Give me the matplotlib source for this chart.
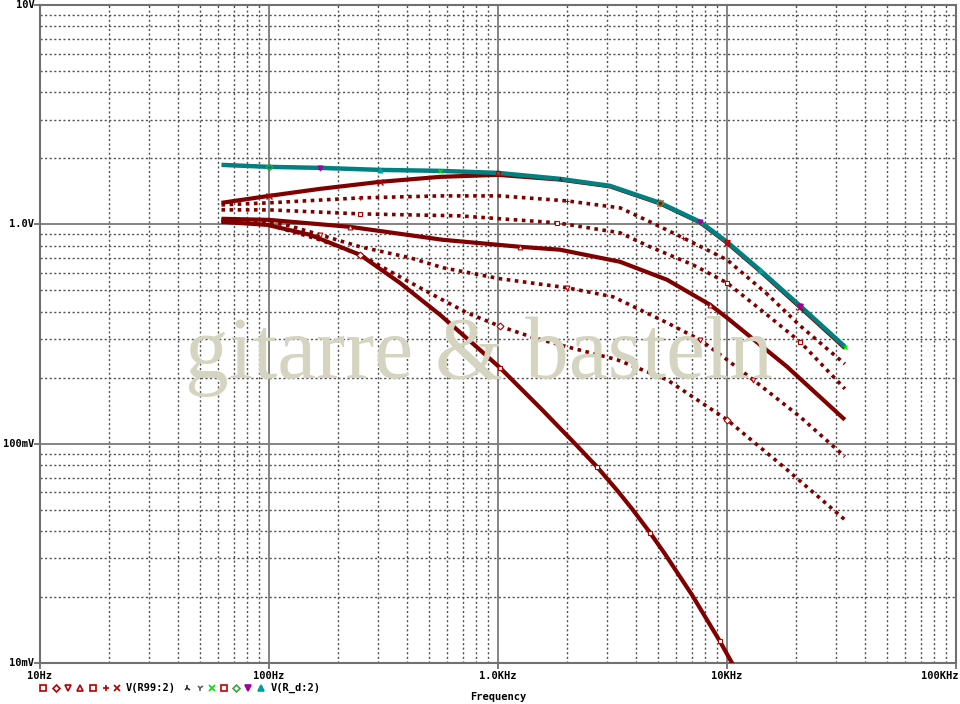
import matplotlib
matplotlib.use("Agg")
import matplotlib.pyplot as plt
from matplotlib.lines import Line2D
from matplotlib.ticker import LogLocator, NullFormatter

# ---------------- data (Hz, V) ----------------
# V(R_d:2): seven overlapping traces, drawn teal on top
f_rd = [62, 100, 167, 305, 558, 1000, 1865, 3080, 5100, 7620, 10000, 13900, 20800, 32700]
v_rd = [1.867, 1.828, 1.809, 1.771, 1.753, 1.716, 1.612, 1.498, 1.253, 1.027, 0.832, 0.620, 0.426, 0.277]

# V(R99:2) seven parameter steps
f_x = [62, 100, 167, 305, 558, 1000, 1865, 3080, 5100, 7620, 10000, 13900, 20800, 32700]
v_x = [1.253, 1.348, 1.451, 1.562, 1.646, 1.681, 1.600, 1.490, 1.245, 1.020, 0.824, 0.614, 0.420, 0.273]

f_plus = [62, 100, 250, 558, 1020, 2000, 3410, 4610, 6430, 10000, 14950, 20840, 32700]
v_plus = [1.227, 1.253, 1.320, 1.348, 1.348, 1.279, 1.189, 1.027, 0.868, 0.689, 0.482, 0.345, 0.231]

f_sq = [62, 100, 250, 683, 1810, 3410, 4610, 7100, 10000, 14950, 20840, 32700]
v_sq = [1.164, 1.164, 1.116, 1.093, 1.016, 0.915, 0.790, 0.654, 0.541, 0.387, 0.2915, 0.178]

f_tri = [62, 100, 226, 575, 1248, 1865, 3410, 5470, 8430, 10000, 18280, 32700]
v_tri = [1.060, 1.048, 0.974, 0.850, 0.790, 0.766, 0.675, 0.559, 0.430, 0.375, 0.2244, 0.1286]

f_dtri = [62, 100, 123, 167, 250, 413, 575, 1020, 2000, 3180, 5470, 7620, 10000, 12990, 20840, 32700]
v_dtri = [1.048, 1.027, 0.984, 0.896, 0.790, 0.704, 0.634, 0.565, 0.514, 0.4674, 0.356, 0.2977, 0.2414, 0.1957, 0.1327, 0.0873]

f_dia = [62, 100, 167, 250, 373, 520, 732, 1020, 1421, 2000, 3310, 5470, 10000, 18280, 32700]
v_dia = [1.027, 0.995, 0.850, 0.726, 0.5764, 0.4772, 0.3951, 0.3430, 0.3050, 0.2766, 0.2414, 0.1957, 0.1286, 0.0761, 0.0450]

f_steep = [62, 98, 151, 185, 250, 373, 558, 778, 1020, 1556, 2169, 2706, 3342, 3886, 4611, 5361, 7034, 9321, 10515, 12000]
v_steep = [1.027, 0.995, 0.896, 0.823, 0.726, 0.541, 0.387, 0.2855, 0.222, 0.1429, 0.100, 0.0784, 0.0606, 0.0498,
           0.0393, 0.0314, 0.02043, 0.01254, 0.010, 0.0082]

x_ticks = [10, 100, 1000, 10000, 100000]
x_labels = ["10Hz", "100Hz", "1.0KHz", "10KHz", "100KHz"]
y_ticks = [0.01, 0.1, 1.0, 10.0]
y_labels = ["10mV", "100mV", "1.0V", "10V"]

# ---------------- figure ----------------
W, H = 960, 704
fig = plt.figure(figsize=(W / 100, H / 100), dpi=100)
fig.patch.set_facecolor("white")
ax = fig.add_axes([40 / W, 1 - 663 / H, 916 / W, 658 / H])
ax.set_xscale("log")
ax.set_yscale("log")
ax.set_xlim(10, 100000)
ax.set_ylim(0.01, 10)

MAROON = "#800000"
TEAL = "#008080"

ax.xaxis.set_minor_locator(LogLocator(base=10, subs=range(2, 10)))
ax.yaxis.set_minor_locator(LogLocator(base=10, subs=range(2, 10)))
ax.xaxis.set_minor_formatter(NullFormatter())
ax.yaxis.set_minor_formatter(NullFormatter())
ax.set_xticks(x_ticks)
ax.set_xticklabels([])
ax.set_yticks(y_ticks)
ax.set_yticklabels([])
ax.tick_params(which="major", length=4, width=1.3, color="#707070", direction="out")
ax.tick_params(which="minor", length=0)

ax.grid(which="major", color="#7a7a7a", linewidth=1.3, linestyle="-", zorder=0.5)
ax.grid(which="minor", color="#505050", linewidth=1.0, linestyle=(0, (1.5, 1.8)), zorder=0.5)
ax.set_axisbelow(True)
for s in ax.spines.values():
    s.set_color("#707070")
    s.set_linewidth(1.5)

# watermark
fig.text(185 / W, 1 - 378 / H, "gitarre & basteln", family="Liberation Serif",
         fontsize=63, color="#d4d4c0", ha="left", va="baseline", zorder=1)
ax.patch.set_alpha(0)

# tick labels (PSpice style)
lab = dict(family="DejaVu Sans Mono", fontweight="bold", fontsize=7.5, color="black")
for xv, t in zip(x_ticks, x_labels):
    if t == "100KHz":
        fig.text(958 / W, 1 - 676 / H, t, ha="right", va="center", **lab)
    else:
        ax.annotate(t, xy=(xv, 0.01), xytext=(0, -9.5), textcoords="offset points",
                    ha="center", va="center", annotation_clip=False, **lab)
for yv, t in zip(y_ticks, y_labels):
    ax.annotate(t, xy=(10, yv), xytext=(-4, 0), textcoords="offset points",
                ha="right", va="center", annotation_clip=False, **lab)
fig.text(498 / W, 1 - 697 / H, "Frequency", ha="center", va="center", **lab)

# curves
dot = (0, (1.0, 1.25))
mk = dict(markersize=3.5, markeredgewidth=0.8, markerfacecolor="white")
ax.plot(f_steep, v_steep, color=MAROON, lw=3.0, solid_capstyle="butt", zorder=3,
        marker="s", markevery=[4, 8, 11, 14, 17], markeredgecolor="#b00000", **mk)
ax.plot(f_dia, v_dia, color=MAROON, lw=2.6, linestyle=dot, dash_capstyle="butt", zorder=3,
        marker="D", markevery=[3, 7, 12], markeredgecolor="#b00000", **mk)
ax.plot(f_dtri, v_dtri, color=MAROON, lw=2.6, linestyle=dot, dash_capstyle="butt", zorder=3,
        marker="v", markevery=[3, 8, 11, 13], markeredgecolor="#b00000", **mk)
ax.plot(f_tri, v_tri, color=MAROON, lw=3.0, solid_capstyle="butt", zorder=3,
        marker="^", markevery=[2, 4, 8], markeredgecolor="#b00000", **mk)
ax.plot(f_sq, v_sq, color=MAROON, lw=2.6, linestyle=dot, dash_capstyle="butt", zorder=3,
        marker="s", markevery=[2, 4, 8, 10], markeredgecolor="#b00000", **mk)
ax.plot(f_plus, v_plus, color=MAROON, lw=2.6, linestyle=dot, dash_capstyle="butt", zorder=3,
        marker="+", markevery=[2, 5, 8, 10], markeredgecolor="#b00000", **mk)
ax.plot(f_x, v_x, color=MAROON, lw=3.0, solid_capstyle="butt", zorder=3)
ax.plot(f_rd, v_rd, color=TEAL, lw=3.2, solid_capstyle="butt", zorder=4)
# colored markers of the overlapping V(R_d:2) traces and the top V(R99:2) step
ax.plot(f_x, v_x, linestyle="none", marker="x", markevery=[1, 3, 8, 10, 12],
        color="#b00000", markersize=4, markeredgewidth=1.0, zorder=5)
rd_marks = [("2", "#303030", [2, 6, 11]), ("1", "#606060", [3, 7, 12]),
            ("x", "#00e000", [4, 9, 13]), ("s", "#c00000", [5, 10]),
            ("D", "#40a040", [1, 8]), ("v", "#a000a0", [2, 9, 12]), ("^", "#00a0a0", [3, 11])]
for m, c, idx in rd_marks:
    ax.plot(f_rd, v_rd, linestyle="none", marker=m, markevery=idx, color=c,
            markersize=3.5, markeredgewidth=0.9,
            markerfacecolor=c if m in ("v", "^") else "none", zorder=5)

# legend row at bottom
def fig_marker(xp, yp, marker, color, ms=4.5, mew=1.2, filled=False):
    fig.add_artist(Line2D([xp / W], [1 - yp / H], marker=marker, color=color,
                          markersize=ms, markeredgewidth=mew,
                          markerfacecolor=color if filled else "none", linestyle="none"))

ly = 688
leg1 = [(43, "s"), (56, "D"), (68, "v"), (80, "^"), (93, "s"), (106, "+"), (117, "x")]
for xp, m in leg1:
    fig_marker(xp, ly, m, "#b00000", ms=4.5 if m != "D" else 3.5)
fig.text(126 / W, 1 - ly / H, "V(R99:2)", ha="left", va="center", **lab)
leg2 = [(187, "2", "#303030"), (200, "1", "#606060"), (212, "x", "#00e000"), (224, "s", "#c00000"),
        (236, "D", "#40a040"), (248, "v", "#a000a0"), (261, "^", "#00a0a0")]
for xp, m, c in leg2:
    fig_marker(xp, ly, m, c, ms=4.5 if m != "D" else 3.5, filled=m in ("v", "^"))
fig.text(271 / W, 1 - ly / H, "V(R_d:2)", ha="left", va="center", **lab)

fig.savefig("out.png", dpi=100)
